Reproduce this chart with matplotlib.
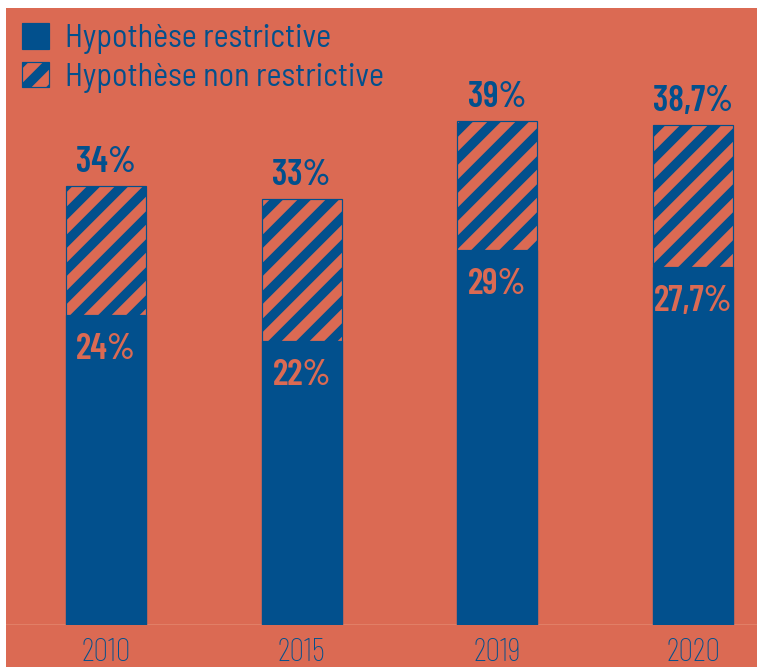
import matplotlib
matplotlib.use("Agg")
import matplotlib.pyplot as plt
from matplotlib.patches import Patch, Rectangle

# data
years = ["2010", "2015", "2019", "2020"]
restrictive = [24, 22, 29, 27.7]
non_restrictive = [34, 33, 39, 38.7]

ORANGE = "#DB6A53"
BLUE = "#02508D"
BASELINE = "#E3876E"

DPI = 168
W_PX, H_PX = 757, 667


def pt(px):
    """Convert pixels to points for the chosen dpi."""
    return px * 72 / DPI


def fmt(v):
    return f"{v:g}".replace(".", ",") + "%"


plt.rcParams["font.family"] = ["Barlow Condensed", "DejaVu Sans"]
plt.rcParams["hatch.linewidth"] = pt(9.5)

fig = plt.figure(figsize=(W_PX / DPI, H_PX / DPI), dpi=DPI, facecolor="white")
fig.patches.append(Rectangle((6 / W_PX, 0), 1, (H_PX - 8) / H_PX,
                             transform=fig.transFigure, facecolor=ORANGE,
                             edgecolor="none", zorder=-1))

ax = fig.add_axes([6 / W_PX, 42 / H_PX, (W_PX - 6) / W_PX, 617 / H_PX])
ax.set_facecolor("none")
ax.set_zorder(1)

x = list(range(len(years)))
bar_w = 0.409

ax.axhline(0, color=BASELINE, linewidth=pt(2.5), zorder=1)

ax.bar(x, non_restrictive, bar_w, color=ORANGE, edgecolor=BLUE,
       hatch="//", linewidth=pt(1.2), zorder=2)
ax.bar(x, restrictive, bar_w, color=BLUE, edgecolor=BLUE,
       linewidth=pt(1.2), zorder=3)

for xi, lo, hi in zip(x, restrictive, non_restrictive):
    ax.annotate(fmt(hi), (xi, hi), xytext=(0, pt(14)), textcoords="offset points",
                ha="center", va="baseline", color=BLUE, fontweight="semibold",
                fontsize=pt(36), zorder=4)
    ax.annotate(fmt(lo), (xi, lo), xytext=(0, -pt(44)), textcoords="offset points",
                ha="center", va="baseline", color=ORANGE, fontweight="semibold",
                fontsize=pt(36), zorder=4)

ax.set_xlim(-0.511, 3.327)
ax.set_ylim(0, 47.75)
ax.set_xticks(x)
ax.set_xticklabels(years, color=BLUE, fontsize=pt(33), fontweight="light")
ax.tick_params(axis="x", length=0, pad=pt(13))
ax.set_yticks([])
for spine in ax.spines.values():
    spine.set_visible(False)

handles = [
    Patch(facecolor=BLUE, edgecolor=BLUE, linewidth=pt(1.2), label="Hypothèse restrictive"),
    Patch(facecolor=ORANGE, edgecolor=BLUE, hatch="//", linewidth=pt(1.2),
          label="Hypothèse non restrictive"),
]
leg = fig.legend(handles=handles, loc="upper left",
                 bbox_to_anchor=(22 / W_PX, 1 - 23 / H_PX),
                 frameon=False,
                 prop={"family": ["Barlow Semi Condensed", "Barlow Condensed"],
                       "size": pt(32)},
                 handlelength=0.85, handleheight=0.85, handletextpad=0.5,
                 labelspacing=0.25, borderpad=0, borderaxespad=0)
for t in leg.get_texts():
    t.set_color(BLUE)

fig.savefig("out.png", dpi=DPI, facecolor="white")
